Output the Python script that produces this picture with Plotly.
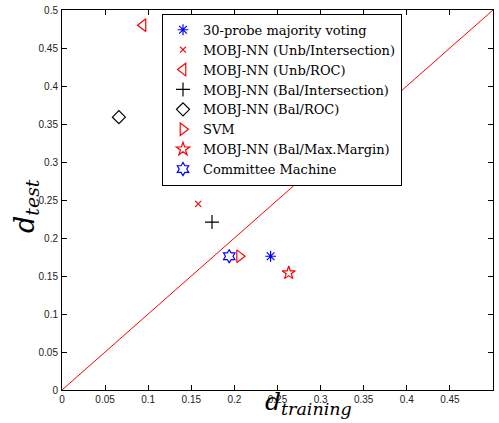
import plotly.graph_objects as go

names = ["30-probe majority voting", "MOBJ-NN (Unb/Intersection)", "MOBJ-NN (Unb/ROC)",
         "MOBJ-NN (Bal/Intersection)", "MOBJ-NN (Bal/ROC)", "SVM",
         "MOBJ-NN (Bal/Max.Margin)", "Committee Machine"]
d_training = [0.242, 0.158, 0.094, 0.174, 0.066, 0.206, 0.263, 0.194]
d_test = [0.176, 0.245, 0.480, 0.221, 0.359, 0.176, 0.154, 0.176]
symbols = ["asterisk-open", "x-thin-open", "triangle-left-open", "cross-thin-open",
           "diamond-open", "triangle-right-open", "star-open", "hexagram-open"]
colors = ["blue", "red", "red", "black", "black", "red", "red", "blue"]
sizes = [9, 6, 11, 10, 10, 11, 10, 10]
diag = [0, 0.5]
ticks = [0, 0.05, 0.1, 0.15, 0.2, 0.25, 0.3, 0.35, 0.4, 0.45, 0.5]
tick_labels = ["0", "0.05", "0.1", "0.15", "0.2", "0.25", "0.3", "0.35", "0.4", "0.45", "0.5"]

fig = go.Figure()
fig.add_trace(go.Scatter(x=diag, y=diag, mode="lines", line=dict(color="red", width=1),
                         showlegend=False, hoverinfo="skip"))
for n, xv, yv, s, c, sz in zip(names, d_training, d_test, symbols, colors, sizes):
    fig.add_trace(go.Scatter(x=[xv], y=[yv], mode="markers", name=n,
                             marker=dict(symbol=s, size=sz, color=c,
                                         line=dict(color=c, width=1.2))))

axis_common = dict(range=[0, 0.5], tickvals=ticks, ticktext=tick_labels, ticks="inside",
                   ticklen=5, tickcolor="black", showline=True, linecolor="black",
                   linewidth=1, mirror="ticks", showgrid=False, zeroline=False,
                   automargin=False,
                   tickfont=dict(family="Liberation Sans, Arial", size=10, color="#222"))
fig.update_xaxes(**axis_common, ticklabelstandoff=0)
fig.update_yaxes(**axis_common, ticklabelstandoff=1)

fig.add_annotation(text="<i>d</i><sub><i>training</i></sub>", xref="paper", yref="paper",
                   x=0.573, y=-0.033, xanchor="center", yanchor="middle",
                   showarrow=False, font=dict(family="DejaVu Serif", size=25, color="black"))
fig.add_annotation(text="<i>d</i><sub><i>test</i></sub>", xref="paper", yref="paper",
                   x=-0.083, y=0.485, xanchor="center", yanchor="middle", textangle=-90,
                   showarrow=False, font=dict(family="DejaVu Serif", size=27, color="black"))

fig.update_layout(
    width=499, height=423,
    margin=dict(l=62, r=6, t=10, b=33),
    paper_bgcolor="white", plot_bgcolor="white",
    legend=dict(x=0.232, y=0.99, xanchor="left", yanchor="top",
                bgcolor="white", bordercolor="black", borderwidth=1,
                font=dict(family="DejaVu Serif", size=13, color="black"),
                tracegroupgap=0, itemsizing="trace", itemwidth=30),
)
fig.write_html("out.html", config={"displayModeBar": False},
               post_script="document.body.style.margin='0';document.body.style.overflow='hidden';")
